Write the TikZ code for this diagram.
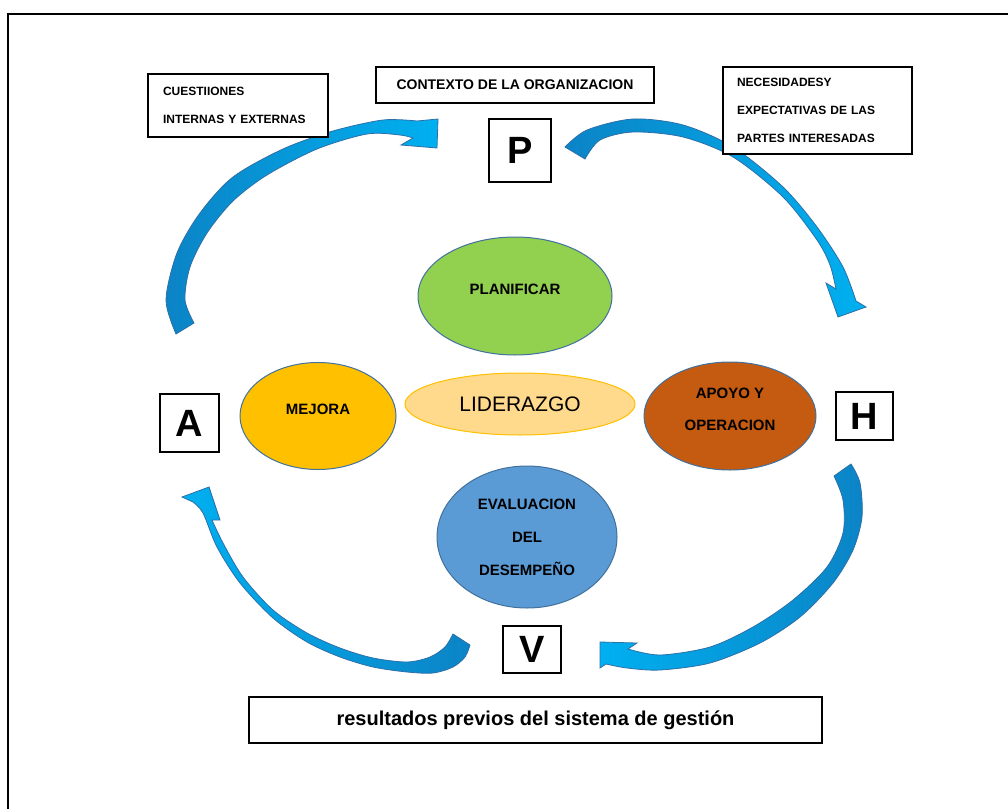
\documentclass[tikz,border=0pt]{standalone}
\usepackage{fontspec}
\setmainfont{Liberation Sans}
\usetikzlibrary{shapes.geometric}

\definecolor{verde}{HTML}{92D050}
\definecolor{dorado}{HTML}{FFC000}
\definecolor{crema}{HTML}{FFD98C}
\definecolor{marron}{HTML}{C55A11}
\definecolor{azul}{HTML}{5B9BD5}
\definecolor{bordeelipse}{HTML}{41719C}
\definecolor{azuloscuro}{HTML}{0B84C6}
\definecolor{azulclaro}{HTML}{00B0F0}
\definecolor{bordeflecha}{HTML}{2F6FA8}

\begin{document}
\begin{tikzpicture}[x=1pt,y=-1pt,
  caja/.style={draw,fill=white,line width=1.2pt,inner sep=0pt,font=\bfseries\fontsize{12}{28}\selectfont},
  letra/.style={draw,fill=white,line width=1.2pt,inner sep=0pt,font=\bfseries\fontsize{38}{38}\selectfont},
  elipse/.style={ellipse,draw=bordeelipse,line width=1pt,inner sep=0pt},
  rotulo/.style={align=center,font=\bfseries\fontsize{15}{33}\selectfont},
  flecha/.style={draw=bordeflecha,line width=0.8pt}]

\useasboundingbox (0,0) rectangle (1008,808);
\draw[line width=2pt] (8,830) -- (8,14) -- (1030,14);

% flechas curvas
\shadedraw[flecha,left color=azuloscuro,right color=azulclaro]
  plot[smooth] coordinates {(176,334) (166,300) (177,253) (200,213) (233,177) (283,149) (333,131) (383,120) (417,121)}
  -- (438,119) -- (437,148) -- (401,145)
  -- plot[smooth] coordinates {(413,138) (400,135) (367,134) (317,149) (267,175) (233,201) (207,233) (190,267) (185,300) (194,323)}
  -- cycle;
\shadedraw[flecha,left color=azuloscuro,right color=azulclaro]
  plot[smooth] coordinates {(565,147) (587,130) (633,119) (683,125) (733,147) (783,187) (817,227) (843,267) (856,301)}
  -- (866,307) -- (838,317) -- (826,283)
  -- plot[smooth] coordinates {(836,289) (830,265) (817,240) (783,197) (733,157) (683,137) (633,132) (600,140) (585,159)}
  -- cycle;
\shadedraw[flecha,left color=azulclaro,right color=azuloscuro]
  plot[smooth] coordinates {(470,645) (465,657) (453,667) (433,673) (407,672) (373,667) (340,657) (307,642) (273,618) (240,583) (217,547) (203,513) (193,502)}
  -- (182,497) -- (209,487) -- (220,520)
  -- plot[smooth] coordinates {(212,520) (223,543) (243,577) (273,610) (307,633) (340,648) (373,658) (407,662) (430,657) (445,647) (453,634)}
  -- cycle;
\shadedraw[flecha,left color=azulclaro,right color=azuloscuro]
  plot[smooth] coordinates {(851,464) (860,483) (862,517) (853,550) (833,583) (800,617) (760,643) (710,663) (660,670) (627,668) (606,664)}
  -- (600,668) -- (600,642) -- (637,643)
  -- plot[smooth] coordinates {(628,649) (660,655) (710,647) (753,627) (793,600) (827,567) (843,533) (843,500) (834,476)}
  -- cycle;

% cajas de texto
\node[caja,minimum width=180pt,minimum height=63pt,text width=150pt,inner xsep=15pt,align=left] (cuest) at (238,105.5) {CUESTIIONES\\INTERNAS Y EXTERNAS};
\node[caja,minimum width=278pt,minimum height=36pt,font=\bfseries\fontsize{14}{14}\selectfont] (contexto) at (515,85) {CONTEXTO DE LA ORGANIZACION};
\node[caja,minimum width=189pt,minimum height=87pt,text width=161pt,inner xsep=14pt,align=left] (neces) at (817.5,110.5) {NECESIDADESY\\EXPECTATIVAS DE LAS\\PARTES INTERESADAS};
\node[caja,minimum width=573pt,minimum height=46pt,font=\bfseries\fontsize{20}{20}\selectfont] (result) at (535.5,720) {resultados previos del sistema de gestión};

% letras del ciclo
\node[letra,minimum width=62pt,minimum height=63pt] (P) at (520,150.5) {P};
\node[letra,minimum width=59pt,minimum height=58pt] (A) at (189.5,423) {A};
\node[letra,minimum width=57pt,minimum height=48pt] (H) at (864.5,416) {H};
\node[letra,minimum width=58pt,minimum height=47pt] (V) at (532,649.5) {V};

% elipses
\node[elipse,fill=verde,minimum width=194pt,minimum height=118pt] (planif) at (515,296) {};
\node[rotulo] (tplanif) at ([yshift=7pt]planif.center) {PLANIFICAR};
\node[elipse,fill=dorado,minimum width=156pt,minimum height=107pt] (mejora) at (318,416) {};
\node[rotulo] (tmejora) at ([yshift=7pt]mejora.center) {MEJORA};
\node[elipse,draw=dorado,fill=crema,minimum width=230pt,minimum height=62pt,font=\fontsize{21}{21}\selectfont] (lider) at (520,404) {LIDERAZGO};
\node[elipse,fill=marron,minimum width=172pt,minimum height=108pt] (apoyo) at (730,416) {};
\node[rotulo,font=\bfseries\fontsize{15}{32}\selectfont] (tapoyo) at ([yshift=7pt]apoyo.center) {APOYO Y\\OPERACION};
\node[elipse,fill=azul,minimum width=180pt,minimum height=142pt] (evalua) at (527,537) {};
\node[rotulo] (tevalua) at (evalua.center) {EVALUACION\\DEL\\DESEMPEÑO};

\end{tikzpicture}
\end{document}
